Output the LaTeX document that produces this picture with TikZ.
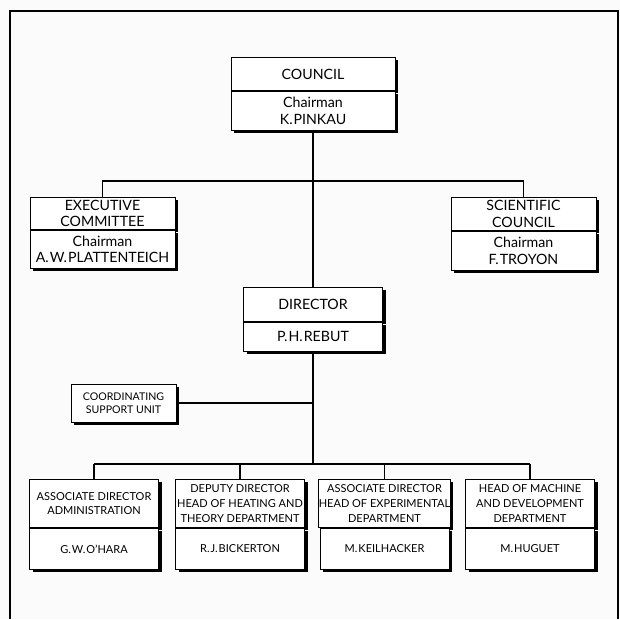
\documentclass[tikz,border=0pt]{standalone}
\usepackage{fontspec}
\setmainfont{Lato}
\usetikzlibrary{shadows, positioning, calc}

\tikzset{
  boxpart/.style={draw, fill=white, line width=0.9pt, inner sep=0pt, align=center,
                  drop shadow={shadow xshift=3pt, shadow yshift=-3pt, fill=black, opacity=1}},
  link/.style={line width=1.2pt},
  bigtext/.style={font=\fontsize{14.2}{16.5}\selectfont},
  smalltext/.style={font=\fontsize{11}{14.8}\selectfont}
}

\begin{document}
\begin{tikzpicture}[x=1pt, y=-1pt]
  \useasboundingbox[fill=gray!3] (0,0) rectangle (620,619);
  \draw[line width=2pt] (10,619) -- (10,11) -- (618,11) -- (618,619);

  % council and the two committees
  \node[boxpart, bigtext, anchor=north, minimum width=164pt, minimum height=33pt] (council) at (313,57) {COUNCIL};
  \node[boxpart, bigtext, below=0pt of council, minimum width=164pt, minimum height=39pt] (council-name) {Chairman\\K.\kern1pt PINKAU};

  \node[boxpart, bigtext, anchor=north, minimum width=145pt, minimum height=32pt] (exec) at (102.5,197) {EXECUTIVE\\COMMITTEE};
  \node[boxpart, bigtext, below=0pt of exec, minimum width=145pt, minimum height=38pt] (exec-name) {Chairman\\A.\kern1pt W.\kern1pt PLATTENTEICH};

  \node[boxpart, bigtext, anchor=north, minimum width=145pt, minimum height=33pt] (sci) at (523.5,197) {SCIENTIFIC\\COUNCIL};
  \node[boxpart, bigtext, below=0pt of sci, minimum width=145pt, minimum height=39pt] (sci-name) {Chairman\\F.\kern1pt TROYON};

  % director
  \node[boxpart, bigtext, anchor=north, minimum width=139pt, minimum height=34pt] (director) at (313,287) {DIRECTOR};
  \node[boxpart, bigtext, below=0pt of director, minimum width=139pt, minimum height=29pt] (director-name) {P.\kern1pt H.\kern1pt REBUT};

  \node[boxpart, font=\fontsize{10.6}{13}\selectfont, minimum width=105pt, minimum height=38pt] (coord) at (123.5,403) {COORDINATING\\SUPPORT UNIT};

  \coordinate (bus1) at (313,181);
  \coordinate (bus2) at (313,464);

  \draw[link] (council-name.south) -- (director.north);
  \draw[link] (exec.north) |- (bus1) -| (sci.north);
  \draw[link] (director-name.south) -- (bus2);
  \draw[link] (coord.east) -- (coord.east -| bus2);

  % departments
  \foreach \i/\x/\role/\who in {1/94/{ASSOCIATE DIRECTOR\\ADMINISTRATION}/{G.\kern1pt W.\kern1pt O’HARA},
                                2/240/{DEPUTY DIRECTOR\\HEAD OF HEATING AND\\THEORY DEPARTMENT}/{R.\kern1pt J.\kern1pt BICKERTON},
                                3/384.5/{ASSOCIATE DIRECTOR\\HEAD OF EXPERIMENTAL\\DEPARTMENT}/{M.\kern1pt KEILHACKER},
                                4/530/{HEAD OF MACHINE\\AND DEVELOPMENT\\DEPARTMENT}/{M.\kern1pt HUGUET}} {
    \node[boxpart, smalltext, anchor=north, minimum width=129pt, minimum height=48pt] (dept\i) at (\x,479) {\role};
    \node[boxpart, smalltext, below=0pt of dept\i, minimum width=129pt, minimum height=41pt] (dept\i-name) {\who};
    \draw[link] (dept\i.north) -- (dept\i.north |- bus2);
  }
  \draw[link] (dept1.north |- bus2) -- (dept4.north |- bus2);
\end{tikzpicture}
\end{document}
